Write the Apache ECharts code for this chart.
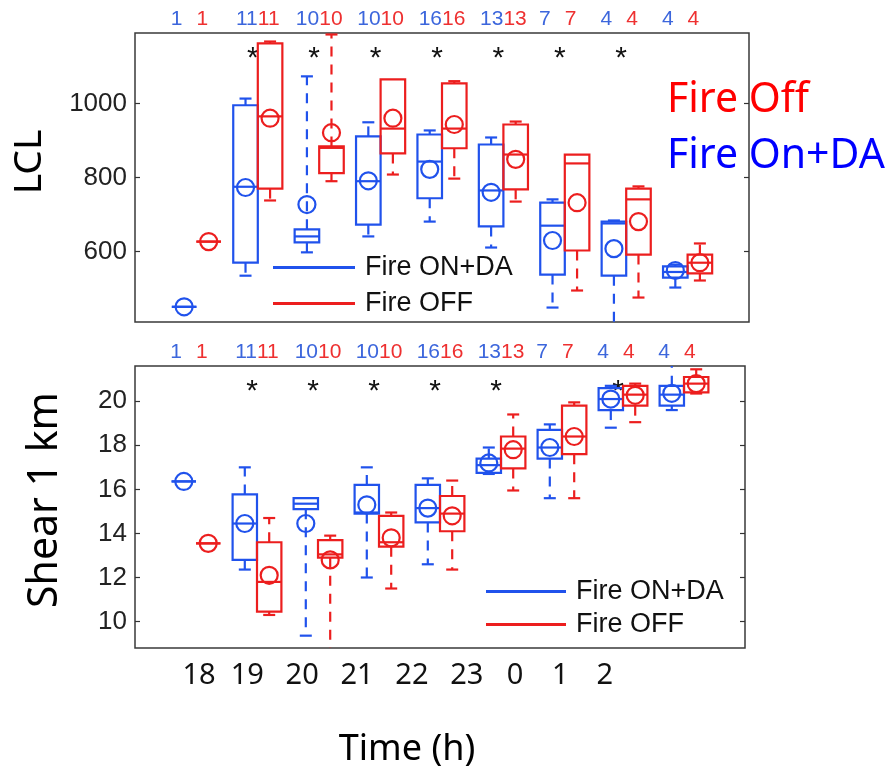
<!DOCTYPE html>
<html><head><meta charset="utf-8">
<script src="https://cdn.jsdelivr.net/npm/echarts@6/dist/echarts.min.js"></script>
<style>html,body{margin:0;padding:0;background:#fff}#c{width:891px;height:773px}</style>
</head><body><div id="c"></div><script>
// ---------- data ----------
const hours = ['18','19','20','21','22','23','0','1','2'];
const countsOn  = [1,11,10,10,16,13,7,4,4];
const countsOff = [1,11,10,10,16,13,7,4,4];
// box stats: [lower whisker, q1, median, q3, upper whisker]
const lclOn = [
  [451,451,451,451,451],[535,570,775,995,1013],[598,625,641,660,1073],[641,673,790,911,949],
  [681,744,843,916,927],[611,668,765,889,908],[449,538,670,732,741],[395,535,676,681,684],[503,530,545,560,565]];
const lclOnMean = [451,773,727,791,822,760,630,608,549];
const lclOff = [
  [627,627,627,627,627],[738,770,965,1162,1167],[790,812,880,884,1186],[808,865,932,1065,1065],
  [797,879,932,1054,1060],[735,768,862,943,951],[495,603,838,862,862],[476,592,741,770,776],[522,541,570,592,622]];
const lclOffMean = [627,960,921,960,943,849,732,681,570];
const shearOn = [
  [16.36,16.36,16.36,16.36,16.36],[12.36,12.8,14.45,15.77,17.0],[9.36,15.1,15.35,15.6,15.6],[12.0,14.9,14.95,16.2,17.0],
  [12.6,14.5,15.15,16.2,16.5],[16.7,16.75,17.1,17.4,17.9],[15.6,17.4,17.9,18.7,18.95],[18.8,19.6,20.1,20.6,20.7],[19.6,19.8,20.3,20.7,21.7]];
const shearOnMean = [16.36,14.45,14.45,15.3,15.15,17.2,17.9,20.1,20.36];
const shearOff = [
  [13.55,13.55,13.55,13.55,13.55],[10.3,10.45,11.8,13.6,14.7],[8.5,12.9,13.05,13.7,13.9],[11.5,13.4,13.6,14.8,14.95],
  [12.36,14.1,14.9,15.7,16.4],[15.95,16.95,17.85,18.4,19.4],[15.6,17.6,18.4,19.8,19.95],[19.05,19.8,20.3,20.7,20.8],[20.35,20.4,20.8,21.1,21.45]];
const shearOffMean = [13.55,12.1,12.8,13.8,14.8,17.8,18.4,20.27,20.8];
const lclSig   = [false,true,true,true,true,true,true,true,false];
const shearSig = [false,true,true,true,true,true,false,true,false];
const lclTicks = [600,800,1000];
const shearTicks = [10,12,14,16,18,20];

// ---------- layout / style ----------
const HOUR_LABEL_POS = [0.05,0.84,1.74,2.64,3.54,4.44,5.23,5.97,6.70];
const BLUE = '#2052ec', RED = '#ec1e1e';
const BLUE_T = '#3c66dc', RED_T = '#ee3030';
const HELV = '"Liberation Sans", Arial, sans-serif';
const CAL = '"Noto Sans", "Open Sans", sans-serif';

function rows(stats, means) { return stats.map((s, i) => [i, s[0], s[1], s[2], s[3], s[4], means[i]]); }

function makeRender(offset, color) {
  return function (params, api) {
    const x = api.value(0) + offset;
    const lo = api.value(1), q1 = api.value(2), med = api.value(3), q3 = api.value(4), hi = api.value(5), mean = api.value(6);
    const pLo = api.coord([x, lo]), pQ1 = api.coord([x, q1]), pMed = api.coord([x, med]),
          pQ3 = api.coord([x, q3]), pHi = api.coord([x, hi]), pMean = api.coord([x, mean]);
    const L = api.coord([x - 0.2, q1])[0], R = api.coord([x + 0.2, q1])[0];
    const cx = pQ1[0], capW = 6;
    const st = {stroke: color, lineWidth: 2.2, fill: 'none'};
    const ds = {stroke: color, lineWidth: 2.2, fill: 'none', lineDash: [10, 8]};
    const ch = [];
    if (hi > q3) {
      ch.push({type: 'line', shape: {x1: cx, y1: pQ3[1], x2: cx, y2: pHi[1]}, style: ds});
      ch.push({type: 'line', shape: {x1: cx - capW, y1: pHi[1], x2: cx + capW, y2: pHi[1]}, style: st});
    }
    if (lo < q1) {
      ch.push({type: 'line', shape: {x1: cx, y1: pQ1[1], x2: cx, y2: pLo[1]}, style: ds});
      ch.push({type: 'line', shape: {x1: cx - capW, y1: pLo[1], x2: cx + capW, y2: pLo[1]}, style: st});
    }
    ch.push({type: 'rect', shape: {x: L, y: pQ3[1], width: R - L, height: pQ1[1] - pQ3[1]}, style: st});
    ch.push({type: 'line', shape: {x1: L, y1: pMed[1], x2: R, y2: pMed[1]}, style: st});
    ch.push({type: 'circle', shape: {cx: pMean[0], cy: pMean[1], r: 8.5}, style: st});
    return {type: 'group', children: ch};
  };
}

function countFormatter(v) {
  const i = Math.round(v);
  if (i < 0 || i > 8) return '';
  const a = countsOn[i], b = countsOff[i];
  return (a < 10) ? `{b|${a}}{g|}{r|${b}}{g|}` : `{b|${a}}{r|${b}}`;
}
const countRich = {
  b: {color: BLUE_T, fontSize: 21, fontFamily: HELV},
  r: {color: RED_T, fontSize: 21, fontFamily: HELV},
  g: {width: 14}
};
function starFormatter(sig) {
  return v => { const i = Math.round(v); return (i >= 0 && i <= 8 && sig[i]) ? '{s|*}' : ''; };
}
const starRich = {s: {fontSize: 30, color: '#111', fontFamily: HELV, padding: [0, 10, 0, 0]}};

const xBase = {type: 'value', min: -1, max: 9, interval: 1, splitLine: {show: false},
  axisLine: {show: false, onZero: false}, axisTick: {show: false}};

const yLabel = {fontSize: 26, color: '#222', fontFamily: HELV, margin: 8, formatter: v => String(v)};
const yTick = vals => ({inside: true, length: 5, customValues: vals, lineStyle: {color: '#333', width: 1.2}});
const yLine = {show: false, onZero: false};

const chart = echarts.init(document.getElementById('c'), null, {renderer: 'canvas'});
chart.setOption({
  animation: false,
  backgroundColor: '#fff',
  grid: [
    {left: 135, top: 33, width: 614, height: 289, show: true, borderColor: '#3a3a3a', borderWidth: 1.5, backgroundColor: 'transparent'},
    {left: 135, top: 366, width: 610, height: 282, show: true, borderColor: '#3a3a3a', borderWidth: 1.5, backgroundColor: 'transparent'}
  ],
  xAxis: [
    Object.assign({}, xBase, {gridIndex: 0, position: 'bottom', axisLabel: {show: false}}),
    Object.assign({}, xBase, {gridIndex: 0, position: 'top', axisLabel: {formatter: countFormatter, rich: countRich, margin: 3}}),
    Object.assign({}, xBase, {gridIndex: 0, position: 'top', axisLabel: {inside: true, formatter: starFormatter(lclSig), rich: starRich, margin: 11}}),
    Object.assign({}, xBase, {gridIndex: 1, position: 'bottom', interval: null,
      axisLabel: {customValues: HOUR_LABEL_POS, margin: 13, fontSize: 29, color: '#111', fontFamily: CAL,
        formatter: v => { let best = 0; HOUR_LABEL_POS.forEach((p, i) => { if (Math.abs(p - v) < Math.abs(HOUR_LABEL_POS[best] - v)) best = i; }); return hours[best]; }}}),
    Object.assign({}, xBase, {gridIndex: 1, position: 'top', axisLabel: {formatter: countFormatter, rich: countRich, margin: 3}}),
    Object.assign({}, xBase, {gridIndex: 1, position: 'top', axisLabel: {inside: true, formatter: starFormatter(shearSig), rich: starRich, margin: 11}})
  ],
  yAxis: [
    {type: 'value', gridIndex: 0, position: 'left', min: 410, max: 1190, splitLine: {show: false}, axisLine: yLine,
      axisTick: yTick(lclTicks), axisLabel: Object.assign({customValues: lclTicks}, yLabel)},
    {type: 'value', gridIndex: 0, position: 'right', min: 410, max: 1190, splitLine: {show: false}, axisLine: yLine,
      axisTick: yTick(lclTicks), axisLabel: {show: false}},
    {type: 'value', gridIndex: 1, position: 'left', min: 8.8, max: 21.6, splitLine: {show: false}, axisLine: yLine,
      axisTick: yTick(shearTicks), axisLabel: Object.assign({customValues: shearTicks}, yLabel)},
    {type: 'value', gridIndex: 1, position: 'right', min: 8.8, max: 21.6, splitLine: {show: false}, axisLine: yLine,
      axisTick: yTick(shearTicks), axisLabel: {show: false}}
  ],
  legend: [
    {left: 273, top: 254, orient: 'vertical', padding: 0, itemGap: 9, itemWidth: 82, itemHeight: 3, icon: 'rect',
      selectedMode: false, data: ['Fire ON+DA', 'Fire OFF'],
      textStyle: {fontSize: 27, lineHeight: 27, color: '#111', fontFamily: HELV, padding: [0, 0, 0, 5]}},
    {left: 486, top: 578, orient: 'vertical', padding: 0, itemGap: 6, itemWidth: 80, itemHeight: 3, icon: 'rect',
      selectedMode: false, data: ['Fire ON+DA', 'Fire OFF'],
      textStyle: {fontSize: 27, lineHeight: 27, color: '#111', fontFamily: HELV, padding: [0, 0, 0, 5]}}
  ],
  series: [
    {type: 'custom', name: 'Fire ON+DA', xAxisIndex: 0, yAxisIndex: 0, clip: true, itemStyle: {color: BLUE},
      renderItem: makeRender(-0.2, BLUE), encode: {x: 0, y: [1, 5]}, data: rows(lclOn, lclOnMean)},
    {type: 'custom', name: 'Fire OFF', xAxisIndex: 0, yAxisIndex: 0, clip: true, itemStyle: {color: RED},
      renderItem: makeRender(0.2, RED), encode: {x: 0, y: [1, 5]}, data: rows(lclOff, lclOffMean)},
    {type: 'custom', name: 'Fire ON+DA', xAxisIndex: 3, yAxisIndex: 2, clip: true, itemStyle: {color: BLUE},
      renderItem: makeRender(-0.2, BLUE), encode: {x: 0, y: [1, 5]}, data: rows(shearOn, shearOnMean)},
    {type: 'custom', name: 'Fire OFF', xAxisIndex: 3, yAxisIndex: 2, clip: true, itemStyle: {color: RED},
      renderItem: makeRender(0.2, RED), encode: {x: 0, y: [1, 5]}, data: rows(shearOff, shearOffMean)}
  ],
  graphic: [
    {type: 'text', x: 30, y: 162, rotation: Math.PI / 2, style: {text: 'LCL', fontSize: 39, fontFamily: CAL, fill: '#000', textAlign: 'center', textVerticalAlign: 'middle'}},
    {type: 'text', x: 45, y: 500, rotation: Math.PI / 2, style: {text: 'Shear 1 km', fontSize: 41, fontFamily: CAL, fill: '#000', textAlign: 'center', textVerticalAlign: 'middle'}},
    {type: 'text', x: 407, y: 750, style: {text: 'Time (h)', fontSize: 36, fontFamily: CAL, fill: '#000', textAlign: 'center', textVerticalAlign: 'middle'}},
    {type: 'text', x: 667, y: 100, z: 100, style: {text: 'Fire Off', fontSize: 41, fontFamily: CAL, fill: '#ff0000', textAlign: 'left', textVerticalAlign: 'middle'}},
    {type: 'text', x: 667, y: 156, z: 100, style: {text: 'Fire On+DA', fontSize: 41, fontFamily: CAL, fill: '#0000ff', textAlign: 'left', textVerticalAlign: 'middle'}}
  ]
});
</script></body></html>
